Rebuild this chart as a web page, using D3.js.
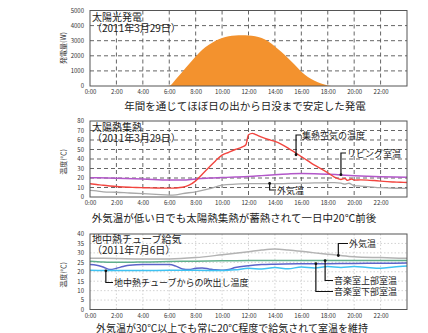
<!DOCTYPE html>
<html>
<head>
<meta charset="utf-8">
<script src="https://cdn.jsdelivr.net/npm/d3@7"></script>
<style>
  body { margin: 0; background: #fff; }
  svg text { font-family: "Noto Sans CJK JP", "Noto Sans", sans-serif; }
</style>
</head>
<body>
<div id="wrapper"></div>
<script>
// hour ticks shared by all panels
const hourTicks = [0, 2, 4, 6, 8, 10, 12, 14, 16, 18, 20, 22]

// panel 1 : solar power (W), 2011-03-29
const solarHours = [0, 5.5, 6, 6.5, 7, 7.5, 8, 8.5, 9, 9.5, 10, 10.5, 11, 11.5, 12, 12.5, 13, 13.5, 14, 14.5, 15, 15.5, 16, 16.5, 17, 17.5, 18, 18.5, 24]
const solarPower = [0, 0, 20, 450, 950, 1450, 1950, 2400, 2730, 3000, 3180, 3300, 3340, 3360, 3340, 3300, 3180, 2950, 2620, 2250, 1840, 1400, 950, 600, 350, 160, 40, 0, 0]
const solarTicks = [0, 1000, 2000, 3000, 4000, 5000]

// panel 2 : solar heat collection (deg C), 2011-03-29
const collectorHours = [0, 0.5, 1, 1.5, 2, 2.5, 3, 3.5, 4, 4.5, 5, 5.5, 6, 6.5, 7, 7.5, 8, 8.5, 9, 9.5, 10, 10.5, 11, 11.5, 11.8, 12, 12.3, 12.5, 13, 13.5, 14, 14.5, 15, 15.5, 16, 16.5, 17, 17.5, 18, 18.5, 19, 19.3, 19.5, 19.8, 20, 20.5, 21, 21.5, 22, 22.5, 23, 23.5, 24]
const collectorTemp = [14, 13.2, 12.3, 11.6, 11, 10.6, 10.3, 10, 9.8, 9.6, 9.4, 9.3, 9.3, 9.5, 10.2, 12.5, 17, 24, 31, 38, 44, 47, 50, 52.5, 55, 65.5, 67, 66, 63, 60.5, 58.5, 55.5, 51.5, 47, 42.5, 38, 33.5, 29.5, 25.5, 21, 18.5, 19.5, 17.5, 19, 17.8, 18, 17.8, 17.3, 16.7, 16.2, 15.8, 15.5, 15.2]
const livingHours = [0, 2, 4, 6, 7, 8, 9, 10, 11, 12, 13, 14, 15, 16, 17, 18, 19, 20, 21, 22, 23, 24]
const livingTemp = [20.3, 19.8, 19, 17.8, 17.8, 19, 20, 20.5, 21, 21.6, 22.5, 23.5, 24.3, 24.8, 24.6, 24, 23.2, 22.4, 21.8, 21.3, 21, 20.8]
const outdoorHours = [0, 0.5, 1, 2, 3, 4, 5, 6, 6.5, 7, 8, 9, 10, 11, 12, 13, 14, 15, 16, 17, 18, 18.5, 19, 19.3, 19.6, 20, 20.5, 21, 22, 23, 24]
const outdoorTemp = [7, 6.5, 5.5, 5, 4.2, 3.5, 2.8, 2, 2.2, 3.5, 5.5, 8.5, 12.5, 13.5, 14, 14, 14, 14.3, 14.5, 14.8, 15, 15.2, 14.5, 13.5, 14.5, 12, 11.5, 11, 9.8, 9.2, 9]
const heatTicks = [0, 10, 20, 30, 40, 50, 60, 70, 80]

// panel 3 : earth tube supply (deg C), 2011-07-06
const summerOutdoorHours = [0, 2, 4, 6, 8, 10, 12, 13, 14, 15, 16, 17, 18, 19, 20, 22, 24]
const summerOutdoorTemp = [27.2, 27, 26.8, 26.8, 27.5, 29, 30.6, 31.5, 32, 31.5, 30.8, 30, 29.3, 28.6, 28, 27.5, 27.1]
const upperHours = [0, 1, 2, 3, 4, 6, 8, 10, 12, 16, 20, 24]
const upperRoomTemp = [25.6, 25.2, 25, 25, 25.2, 25.4, 25.6, 25.8, 26, 26, 25.9, 25.9]
const lowerHours = [0, 0.5, 1, 1.5, 2, 2.5, 3, 4, 5, 6, 6.5, 7, 7.5, 8, 8.5, 9, 9.5, 10, 10.5, 11, 12, 13, 14, 16, 18, 20, 22, 24]
const lowerRoomTemp = [23.8, 23.5, 22.5, 21.2, 21.8, 22.8, 23.5, 23.8, 23.8, 23.8, 23, 21.5, 21.2, 21.8, 22, 21.5, 21, 20.8, 21.2, 22.2, 23.2, 23.8, 24, 24.2, 24.3, 24.4, 24.5, 24.6]
const tubeHours = [0, 2, 4, 6, 8, 10, 11, 12, 13, 14, 15, 16, 17, 18, 19, 20, 21, 22, 23, 24]
const tubeOutletTemp = [20.8, 20.6, 20.6, 20.8, 20.8, 20.6, 21, 21.8, 21.5, 22.2, 21.6, 22.5, 22, 22.8, 22.3, 22.8, 22.2, 21.8, 22.5, 23]
const tubeTicks = [0, 5, 10, 15, 20, 25, 30, 35, 40]

const width = 428
const height = 333
const plotLeft = 90
const plotRight = 407

const svg = d3.select("#wrapper")
    .append("svg")
    .attr("width", width)
    .attr("height", height)

const xScale = d3.scaleLinear()
    .domain([0, 24])
    .range([plotLeft, plotRight])

function drawFrame(yScale, ticks, gridStyle, yLabel, labelY) {
    const top = yScale.range()[1]
    const bottom = yScale.range()[0]
    const g = svg.append("g")
    // grid
    const inner = ticks.slice(1, -1)
    g.selectAll(".hgrid").data(inner).join("line")
        .attr("x1", plotLeft).attr("x2", plotRight)
        .attr("y1", d => yScale(d)).attr("y2", d => yScale(d))
        .attr("stroke", gridStyle.color)
        .attr("stroke-width", gridStyle.width)
        .attr("stroke-dasharray", gridStyle.dash)
    g.selectAll(".vgrid").data(hourTicks.slice(1)).join("line")
        .attr("x1", d => xScale(d)).attr("x2", d => xScale(d))
        .attr("y1", top).attr("y2", bottom)
        .attr("stroke", gridStyle.color)
        .attr("stroke-width", gridStyle.width)
        .attr("stroke-dasharray", gridStyle.dash)
    // axes
    const yAxis = d3.axisLeft(yScale).tickValues(ticks).tickFormat(d3.format("d")).tickSize(0).tickPadding(6)
    g.append("g")
        .attr("transform", `translate(${plotLeft},0)`)
        .call(yAxis)
        .call(a => a.select(".domain").remove())
        .selectAll("text").attr("font-size", 6).attr("fill", "#333")
    const xAxis = d3.axisBottom(xScale).tickValues(hourTicks)
        .tickFormat(d => d + ":00").tickSize(0).tickPadding(4)
    g.append("g")
        .attr("transform", `translate(0,${bottom})`)
        .call(xAxis)
        .call(a => a.select(".domain").remove())
        .selectAll("text").attr("font-size", 6).attr("fill", "#333")
    g.append("text")
        .attr("transform", `translate(66,${labelY}) rotate(-90)`)
        .attr("text-anchor", "middle")
        .attr("font-size", 7)
        .attr("fill", "#333")
        .text(yLabel)
    return g
}

function drawBorder(yScale) {
    const top = yScale.range()[1]
    const bottom = yScale.range()[0]
    svg.append("rect")
        .attr("x", plotLeft).attr("y", top)
        .attr("width", plotRight - plotLeft).attr("height", bottom - top)
        .attr("fill", "none")
        .attr("stroke", "#555")
        .attr("stroke-width", 1)
}

function drawTitle(lines, x, y) {
    const t = svg.append("text")
        .attr("font-size", 10)
        .attr("fill", "#222")
    t.append("tspan").attr("x", x).attr("y", y).text(lines[0])
    t.append("tspan").attr("x", x).attr("y", y + 11).text(lines[1])
}

function drawLine(hours, values, yScale, color, w) {
    const line = d3.line()
        .x((d, i) => xScale(hours[i]))
        .y(d => yScale(d))
        .curve(d3.curveMonotoneX)
    svg.append("path")
        .attr("d", line(values))
        .attr("fill", "none")
        .attr("stroke", color)
        .attr("stroke-width", w)
}

function drawPointer(x, y0, y1, x1, label) {
    svg.append("path")
        .attr("d", `M${x},${y0}V${y1}H${x1}`)
        .attr("fill", "none")
        .attr("stroke", "#111")
        .attr("stroke-width", 1.2)
    svg.append("circle").attr("cx", x).attr("cy", y0).attr("r", 1.4).attr("fill", "#111")
    svg.append("text")
        .attr("x", x1 + 1).attr("y", y1 + 3.5)
        .attr("font-size", 9)
        .attr("fill", "#222")
        .text(label)
}

function drawCaption(text, cx, y, size) {
    svg.append("text")
        .attr("x", cx).attr("y", y)
        .attr("text-anchor", "middle")
        .attr("font-size", size)
        .attr("fill", "#222")
        .text(text)
}

// ---------- panel 1
const solarY = d3.scaleLinear().domain([0, 5000]).range([86, 10.5])
drawFrame(solarY, solarTicks, {color: "#555", width: 0.9, dash: "4,3"}, "発電量(W)", 48)
const area = d3.area()
    .x((d, i) => xScale(solarHours[i]))
    .y0(solarY(0))
    .y1(d => solarY(d))
    .curve(d3.curveMonotoneX)
svg.append("path")
    .attr("d", area(solarPower))
    .attr("fill", "#f3922e")
drawBorder(solarY)
drawTitle(["太陽光発電", "（2011年3月29日）"], 92, 21)
drawCaption("年間を通じてほぼ日の出から日没まで安定した発電", 245, 110, 10.5)

// ---------- panel 2
const heatY = d3.scaleLinear().domain([0, 80]).range([197, 121])
drawFrame(heatY, heatTicks, {color: "#555", width: 0.9, dash: "4,3"}, "温度(℃)", 162)
drawLine(outdoorHours, outdoorTemp, heatY, "#a8a8a8", 1.3)
drawLine(livingHours, livingTemp, heatY, "#b257c9", 1.5)
drawLine(collectorHours, collectorTemp, heatY, "#f2453f", 1.4)
drawBorder(heatY)
drawTitle(["太陽熱集熱", "（2011年3月29日）"], 92, 131)
drawPointer(xScale(15.6), heatY(44.5), 135, 301, "集熱空気の温度")
drawPointer(xScale(19), heatY(23.5), 153, 346, "リビング室温")
drawPointer(xScale(13.6), heatY(14.3), 190, 276, "外気温")
drawCaption("外気温が低い日でも太陽熱集熱が蓄熱されて一日中20℃前後", 234, 222, 10.5)

// ---------- panel 3
const tubeY = d3.scaleLinear().domain([0, 40]).range([309.5, 234])
drawFrame(tubeY, tubeTicks, {color: "#c8c8c8", width: 0.8, dash: "1.5,2"}, "温度(℃)", 275)
drawLine(summerOutdoorHours, summerOutdoorTemp, tubeY, "#b3b3b3", 1.5)
drawLine(upperHours, upperRoomTemp, tubeY, "#5fae8c", 1.5)
drawLine(lowerHours, lowerRoomTemp, tubeY, "#5b63c9", 1.5)
drawLine(tubeHours, tubeOutletTemp, tubeY, "#3fc2f2", 1.5)
drawBorder(tubeY)
drawTitle(["地中熱チューブ給気", "（2011年7月6日）"], 92, 243)
drawPointer(xScale(1.2), tubeY(20.5), 282.5, 113, "地中熱チューブからの吹出し温度")
drawPointer(xScale(18.8), tubeY(28.6), 243.5, 348, "外気温")
drawPointer(xScale(17.8), tubeY(25.9), 280.5, 333, "音楽室上部室温")
drawPointer(xScale(17.1), tubeY(24.3), 291.5, 333, "音楽室下部室温")
drawCaption("外気温が30℃以上でも常に20℃程度で給気されて室温を維持", 232, 331.5, 10)
</script>
</body>
</html>
